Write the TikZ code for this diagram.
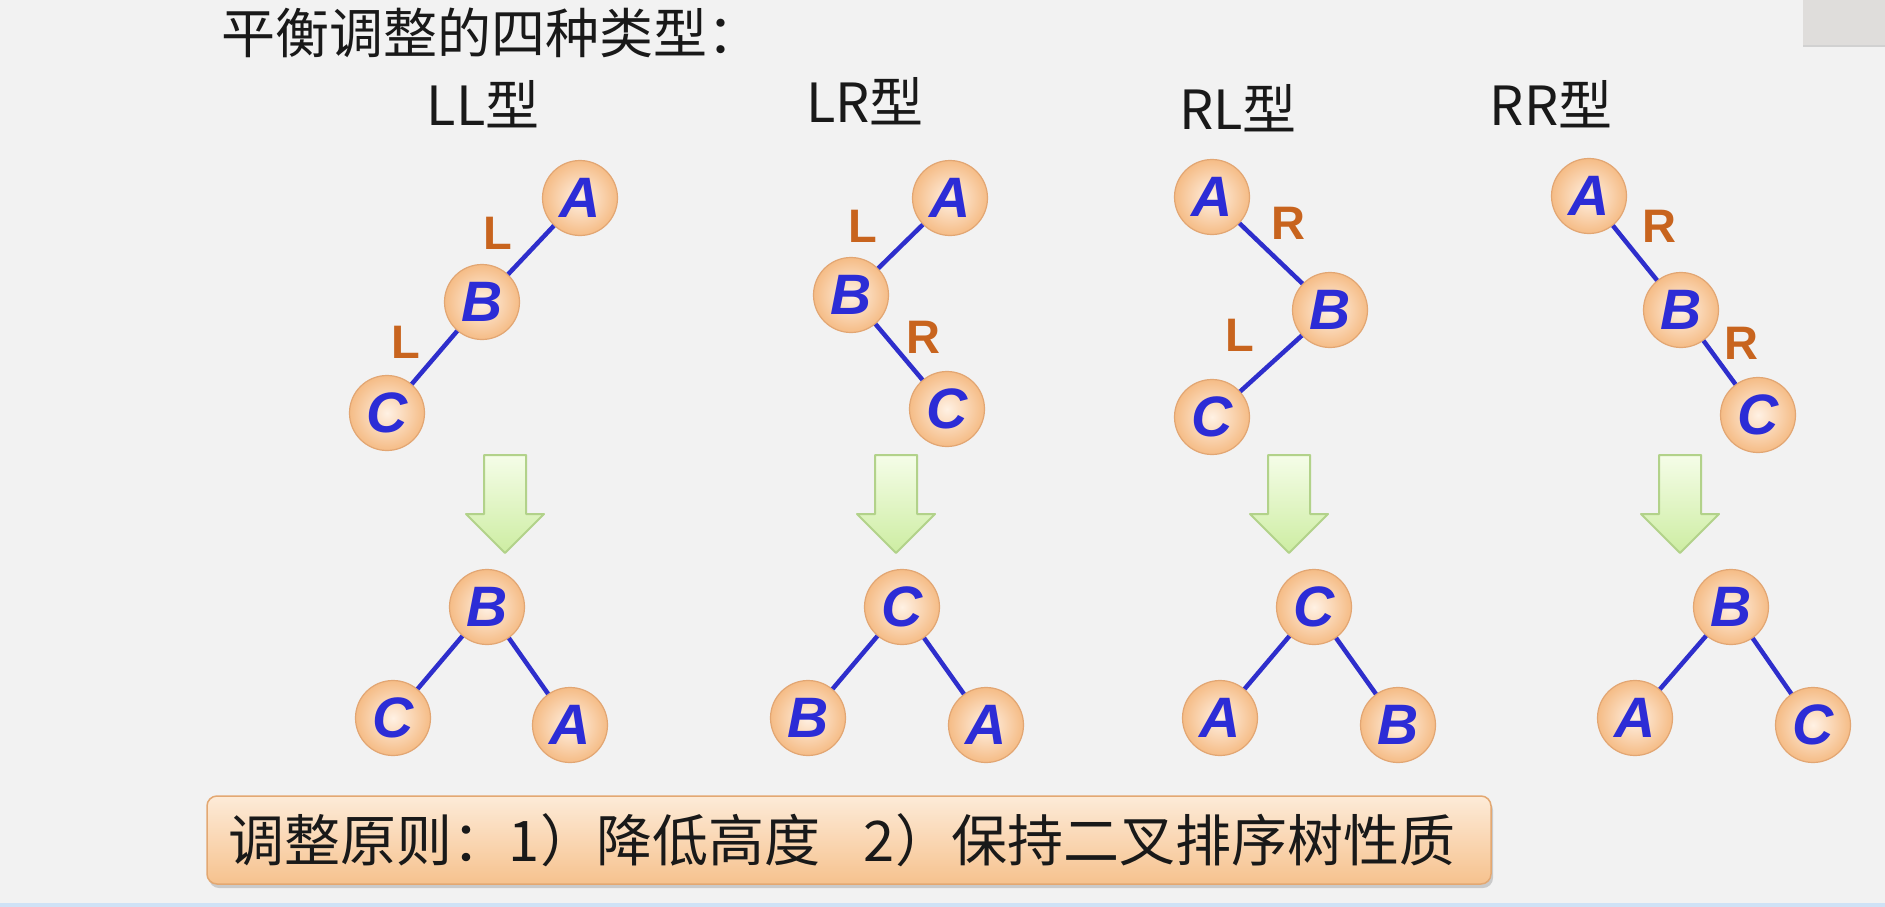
\documentclass[tikz,border=0pt]{standalone}
\usepackage{fontspec}
\setmainfont{Liberation Sans}
\newfontfamily\cjk{Noto Sans CJK SC}
\usetikzlibrary{shadows,calc}
\definecolor{bgc}{HTML}{F2F2F2}
\definecolor{letterblue}{HTML}{2C2CD6}
\definecolor{edgeblue}{HTML}{2E2ECC}
\definecolor{lblorange}{HTML}{C8641E}
\definecolor{ndin}{HTML}{FFF1E4}
\definecolor{ndout}{HTML}{F5BC86}
\definecolor{ndborder}{HTML}{E2A673}
\definecolor{grtop}{HTML}{F5FDE8}
\definecolor{grbot}{HTML}{CDEDA2}
\definecolor{grborder}{HTML}{B2D28A}
\definecolor{boxtop}{HTML}{FDEBD8}
\definecolor{boxbot}{HTML}{F6C28E}
\definecolor{boxborder}{HTML}{E3A872}
\definecolor{bluebar}{HTML}{CFE2F6}
\definecolor{graybox}{HTML}{DFDDDB}
\tikzset{
  nd/.style={circle, minimum size=75pt, inner sep=0pt, draw=ndborder, line width=1.2pt,
    shading=radial, inner color=ndin, outer color=ndout,
    font=\fontsize{57}{57}\selectfont\bfseries\itshape, text=letterblue},
  edge/.style={draw=edgeblue, line width=4.5pt},
  lbl/.style={font=\fontsize{47}{47}\selectfont\bfseries, text=lblorange},
  typelbl/.style={font=\cjk\fontsize{54}{60}\selectfont, text=black!90},
  garrowstyle/.style={draw=grborder, line width=2pt, top color=grtop, bottom color=grbot, line join=round},
  rulebox/.style={rectangle, rounded corners=10pt, draw=boxborder, line width=1.5pt,
    top color=boxtop, bottom color=boxbot, drop shadow={opacity=0.35, shadow xshift=2pt, shadow yshift=-4pt},
    minimum width=1284pt, minimum height=88pt, inner sep=0pt,
    font=\cjk\fontsize{56}{60}\selectfont, text=black!90}
}
\newcommand\greenarrow[2]{%
  \coordinate (#2) at (#1,455);
  \draw[garrowstyle] ($(#2)+(-21,0)$) -- ($(#2)+(21,0)$) -- ($(#2)+(21,59)$) -- ($(#2)+(39,59)$)
    -- ($(#2)+(0,98)$) -- ($(#2)+(-39,59)$) -- ($(#2)+(-21,59)$) -- cycle;}
\begin{document}
\begin{tikzpicture}[x=1pt,y=-1pt]
\useasboundingbox (0,0) rectangle (1885,907);
\fill[bgc] (0,0) rectangle (1885,907);
\fill[bluebar] (0,903) rectangle (1885,907);
\fill[graybox] (1803,0) rectangle (1885,45);
\fill[black!18] (1803,45) rectangle (1885,47);

\node[anchor=west, font=\cjk\fontsize{54}{60}\selectfont, text=black!90] (title) at (218,33) {平衡调整的四种类型：};

\node[typelbl] (t1) at (483,104) {LL型};
\node[typelbl] (t2) at (865,101) {LR型};
\node[typelbl] (t3) at (1238,108) {RL型};
\node[typelbl] (t4) at (1551,104) {RR型};

% LL
\node[nd] (llA) at (580,198) {A};
\node[nd] (llB) at (482,302) {B};
\node[nd] (llC) at (387,413) {C};
\draw[edge] (llA) -- (llB);
\draw[edge] (llB) -- (llC);
\node[lbl] (llL1) at (498,233) {L};
\node[lbl] (llL2) at (406,342) {L};

% LR
\node[nd] (lrA) at (950,198) {A};
\node[nd] (lrB) at (851,295) {B};
\node[nd] (lrC) at (947,409) {C};
\draw[edge] (lrA) -- (lrB);
\draw[edge] (lrB) -- (lrC);
\node[lbl] (lrL) at (863,226) {L};
\node[lbl] (lrR) at (923,337) {R};

% RL
\node[nd] (rlA) at (1212,197) {A};
\node[nd] (rlB) at (1330,310) {B};
\node[nd] (rlC) at (1212,417) {C};
\draw[edge] (rlA) -- (rlB);
\draw[edge] (rlB) -- (rlC);
\node[lbl] (rlR) at (1288,223) {R};
\node[lbl] (rlL) at (1240,335) {L};

% RR
\node[nd] (rrA) at (1589,196) {A};
\node[nd] (rrB) at (1681,310) {B};
\node[nd] (rrC) at (1758,415) {C};
\draw[edge] (rrA) -- (rrB);
\draw[edge] (rrB) -- (rrC);
\node[lbl] (rrR1) at (1659,226) {R};
\node[lbl] (rrR2) at (1741,343) {R};

% arrows
\greenarrow{505}{ga1}
\greenarrow{896}{ga2}
\greenarrow{1289}{ga3}
\greenarrow{1680}{ga4}

% results
\node[nd] (b1B) at (487,607) {B};
\node[nd] (b1C) at (393,718) {C};
\node[nd] (b1A) at (570,725) {A};
\draw[edge] (b1B) -- (b1C);
\draw[edge] (b1B) -- (b1A);

\node[nd] (b2C) at (902,607) {C};
\node[nd] (b2B) at (808,718) {B};
\node[nd] (b2A) at (986,725) {A};
\draw[edge] (b2C) -- (b2B);
\draw[edge] (b2C) -- (b2A);

\node[nd] (b3C) at (1314,607) {C};
\node[nd] (b3A) at (1220,718) {A};
\node[nd] (b3B) at (1398,725) {B};
\draw[edge] (b3C) -- (b3A);
\draw[edge] (b3C) -- (b3B);

\node[nd] (b4B) at (1731,607) {B};
\node[nd] (b4A) at (1635,718) {A};
\node[nd] (b4C) at (1813,725) {C};
\draw[edge] (b4B) -- (b4A);
\draw[edge] (b4B) -- (b4C);

\node[rulebox] (rule) at (849,840) {调整原则：1）降低高度\hspace{44pt}2）保持二叉排序树性质\hspace*{14pt}};
\end{tikzpicture}
\end{document}
